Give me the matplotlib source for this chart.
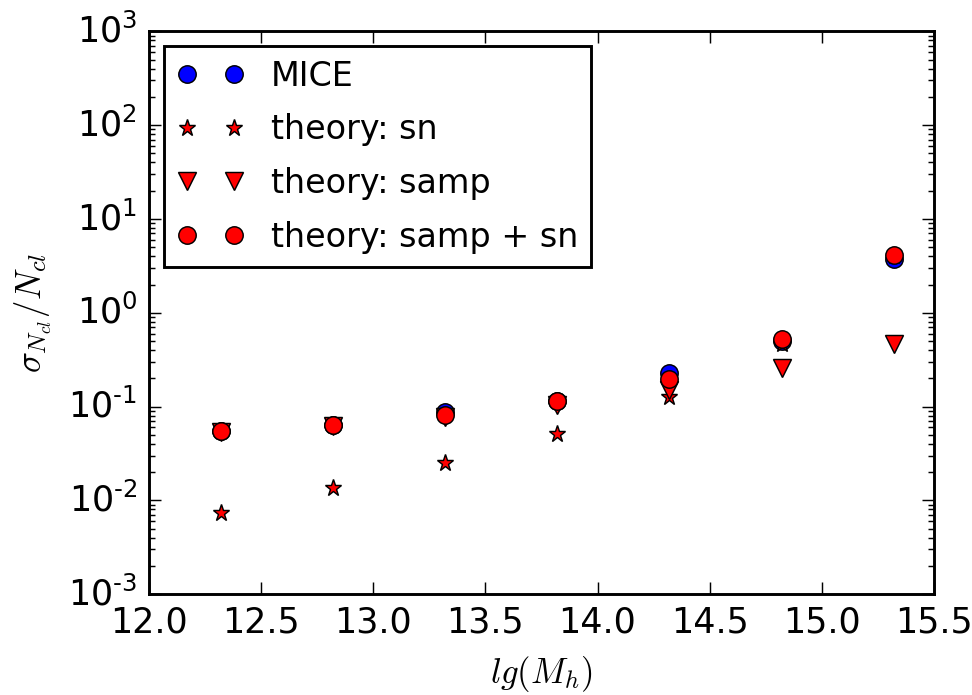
import matplotlib
matplotlib.use("Agg")
import matplotlib.pyplot as plt
from matplotlib.ticker import FuncFormatter, LogLocator
import numpy as np

# Halo mass bins (log10 M_h) and relative cluster-count errors
lg_mass = [12.32, 12.82, 13.32, 13.82, 14.32, 14.82, 15.32]
mice = [0.0546, 0.0643, 0.087, 0.116, 0.226, 0.506, 3.72]
theory_sn = [0.00735, 0.0136, 0.0253, 0.0507, 0.126, 0.46, 4.07]
theory_samp = [0.0541, 0.0628, 0.0782, 0.104, 0.15, 0.256, 0.465]
theory_total = [0.0546, 0.0643, 0.0822, 0.116, 0.199, 0.531, 4.10]


def pow10_label(value, pos):
    exp = int(round(np.log10(value)))
    exp_txt = str(exp).replace("-", "\u2010")
    return r"$\mathdefault{10^{%s}}$" % exp_txt


plt.style.use("classic")
DPI = 209
fig = plt.figure(figsize=(972 / DPI, 695 / DPI), dpi=DPI, facecolor="white")
ax = fig.add_subplot(111)
fig.subplots_adjust(left=0.153, right=0.961, bottom=0.145, top=0.955)

ax.plot(lg_mass, mice, "bo", label="MICE")
ax.plot(lg_mass, theory_sn, "r*", label="theory: sn")
ax.plot(lg_mass, theory_samp, "rv", label="theory: samp")
ax.plot(lg_mass, theory_total, "ro", label="theory: samp + sn")

ax.set_yscale("log")
ax.set_xlim(12.0, 15.5)
ax.set_ylim(1e-3, 1e3)
ax.yaxis.set_major_locator(LogLocator(base=10, numticks=10))
ax.yaxis.set_major_formatter(FuncFormatter(pow10_label))
ax.set_xlabel(r"$lg(M_h)$")
ax.set_ylabel(r"$\sigma_{N_{cl}}/N_{cl}$")
ax.legend(loc="upper left", numpoints=2, fontsize=11.5, labelspacing=0.62,
          borderaxespad=0.45)

fig.savefig("out.png", dpi=DPI, facecolor="white")
